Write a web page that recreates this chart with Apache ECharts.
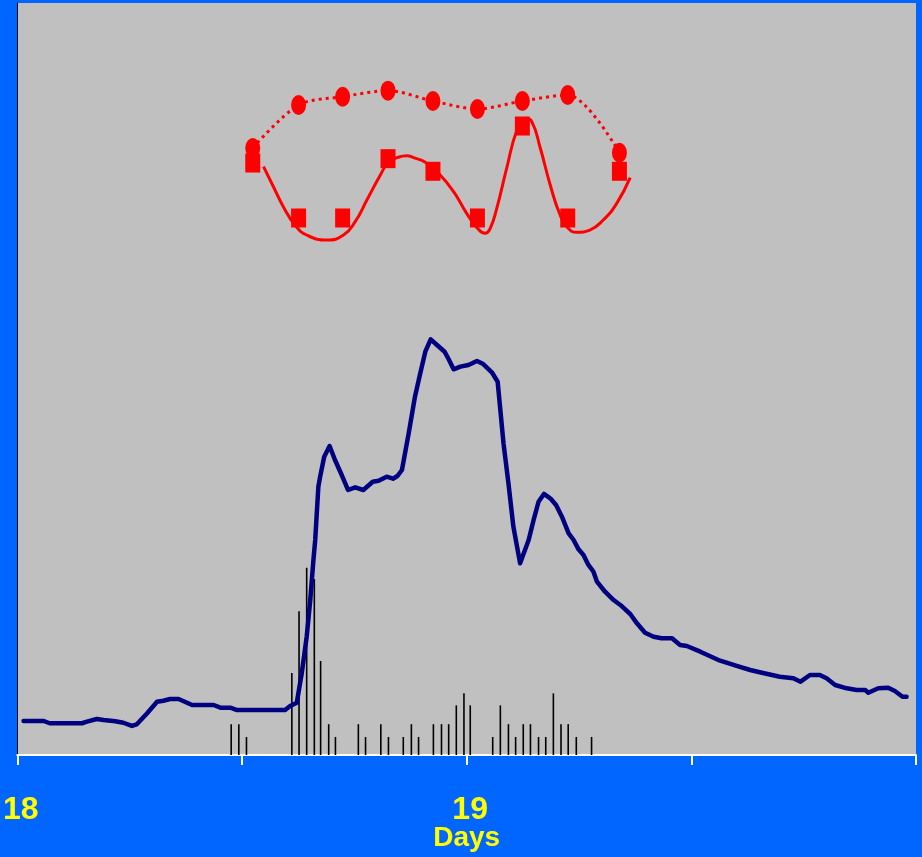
<!DOCTYPE html>
<html>
<head>
<meta charset="utf-8">
<script src="https://cdn.jsdelivr.net/npm/echarts@6/dist/echarts.min.js"></script>
<style>
html,body{margin:0;padding:0;background:#0066FF;}
#c{width:922px;height:857px;}
</style>
</head>
<body>
<div id="c"></div>
<script>
// ---- Data (x in days, y in % of plot height) ----
const tickLabels = ['18', '19'];

const flowDays = [18.014,18.059,18.072,18.144,18.155,18.177,18.192,18.218,18.236,18.255,18.266,18.289,18.311,18.325,18.340,18.359,18.389,18.437,18.452,18.474,18.489,18.596,18.607,18.622,18.633,18.644,18.652,18.659,18.663,18.670,18.674,18.683,18.695,18.707,18.722,18.736,18.752,18.770,18.791,18.804,18.822,18.836,18.846,18.856,18.871,18.885,18.895,18.908,18.920,18.934,18.951,18.960,18.971,18.986,19.004,19.023,19.037,19.056,19.069,19.075,19.082,19.093,19.104,19.119,19.138,19.149,19.160,19.172,19.186,19.199,19.212,19.227,19.238,19.249,19.260,19.271,19.282,19.290,19.308,19.327,19.345,19.364,19.379,19.397,19.416,19.434,19.457,19.475,19.490,19.520,19.564,19.601,19.631,19.657,19.697,19.727,19.743,19.764,19.786,19.801,19.820,19.846,19.868,19.887,19.894,19.916,19.938,19.953,19.970,19.979];
const flowVals = [4.52,4.52,4.22,4.22,4.43,4.79,4.65,4.48,4.29,3.86,4.08,5.55,7.09,7.22,7.45,7.45,6.65,6.65,6.29,6.29,5.98,5.98,6.52,6.95,10.86,15.73,20.61,25.93,28.59,35.68,37.01,39.67,41.09,39.23,37.23,35.24,35.60,35.24,36.34,36.48,37.01,36.74,37.10,37.90,42.78,47.65,50.31,53.63,55.28,54.52,53.63,52.62,51.29,51.64,51.86,52.39,51.99,50.89,49.64,45.88,41.45,36.13,30.36,25.49,28.59,31.25,33.68,34.71,34.14,33.24,31.69,29.48,28.59,27.35,26.60,25.27,24.40,23.05,21.71,20.61,19.81,18.75,17.51,16.26,15.73,15.52,15.52,14.63,14.49,13.74,12.54,11.84,11.30,10.94,10.41,10.20,9.75,10.64,10.64,10.20,9.31,8.87,8.64,8.64,8.28,8.87,8.95,8.51,7.75,7.75];

const rainDays = [18.476,18.493,18.510,18.611,18.627,18.644,18.661,18.675,18.693,18.708,18.759,18.775,18.809,18.826,18.859,18.877,18.893,18.926,18.944,18.960,18.977,18.994,19.008,19.058,19.075,19.093,19.109,19.126,19.142,19.160,19.176,19.193,19.210,19.226,19.244,19.278];
const rainVals = [4.1,4.1,2.4,10.9,19.1,24.9,23.4,12.5,4.1,2.4,4.1,2.4,4.1,2.4,2.4,4.1,2.4,4.1,4.1,4.1,6.6,8.2,6.6,2.4,6.6,4.1,2.4,4.1,4.1,2.4,2.4,8.2,4.1,4.1,2.4,2.4];

const sampleDays = [18.524,18.626,18.724,18.825,18.925,19.024,19.124,19.225,19.340];
const circleVals = [80.72,86.44,87.54,88.34,86.97,85.90,86.97,87.77,80.09];
const squareVals = [78.72,71.41,71.41,79.30,77.62,71.41,83.64,71.41,77.62];

const curveDays = [18.548,18.570,18.592,18.618,18.644,18.689,18.726,18.752,18.778,18.808,18.826,18.845,18.867,18.882,18.908,18.941,18.971,19.000,19.023,19.041,19.052,19.067,19.089,19.112,19.130,19.145,19.164,19.186,19.208,19.226,19.245,19.274,19.304,19.334,19.364];
const curveVals = [78.23,75.57,72.91,70.48,69.15,68.48,69.15,70.92,73.80,77.13,78.82,79.43,79.69,79.43,78.82,77.13,74.91,72.03,70.12,69.37,69.95,72.70,78.02,83.11,84.67,84.22,80.68,75.80,71.81,70.04,69.51,69.81,71.14,73.36,76.77];

const zip = (a, b) => a.map((v, i) => [v, b[i]]);
const FONT = "'Liberation Sans Narrow','Arial Narrow','Liberation Sans',Arial,sans-serif";

const chart = echarts.init(document.getElementById('c'));
chart.setOption({
  backgroundColor: '#0066FF',
  animation: false,
  grid: {
    left: 17, right: 6, top: 3, bottom: 102,
    show: true, backgroundColor: '#C0C0C0', borderWidth: 0
  },
  xAxis: {
    type: 'value', min: 18, max: 20, interval: 0.5,
    name: 'Days', nameLocation: 'middle', nameGap: 69, nameMoveOverlap: false,
    nameTextStyle: { color: '#FFFF00', fontSize: 28, fontWeight: 'bold', fontFamily: FONT },
    axisLine: { show: true, onZero: false, lineStyle: { color: '#FFFFFF', width: 2 } },
    axisTick: { show: true, length: 10, lineStyle: { color: '#FFFFFF', width: 2 } },
    splitLine: { show: false },
    axisLabel: {
      margin: 39, color: '#FFFF00', fontSize: 32, fontWeight: 'bold', fontFamily: FONT,
      padding: [0, 0, 0, 7],
      showMinLabel: true, showMaxLabel: true,
      formatter: v => tickLabels.includes(String(v)) ? String(v) : ''
    }
  },
  yAxis: {
    type: 'value', min: 0, max: 100,
    axisLine: { show: true, lineStyle: { color: '#000000', width: 1 } },
    axisTick: { show: false }, axisLabel: { show: false }, splitLine: { show: false }
  },
  series: [
    {
      type: 'bar', data: zip(rainDays, rainVals), barWidth: 1.6,
      itemStyle: { color: '#000000' }, z: 2
    },
    {
      type: 'line', data: zip(flowDays, flowVals), showSymbol: false, symbol: 'none',
      lineStyle: { color: '#000080', width: 4.5, cap: 'round', join: 'round' }, z: 3
    },
    {
      type: 'line', data: zip(curveDays, curveVals), smooth: 0.5, symbol: 'none',
      lineStyle: { color: '#FF0000', width: 3 }, z: 4
    },
    {
      type: 'line', data: zip(sampleDays, circleVals), smooth: 0.3,
      symbol: 'circle', symbolSize: [15, 20],
      itemStyle: { color: '#FF0000', opacity: 1 },
      lineStyle: { color: '#FF0000', width: 3, type: [3, 4] }, z: 5
    },
    {
      type: 'scatter', data: zip(sampleDays, squareVals),
      symbol: 'rect', symbolSize: [15, 19],
      itemStyle: { color: '#FF0000', opacity: 1 }, z: 6
    }
  ]
});
</script>
</body>
</html>
